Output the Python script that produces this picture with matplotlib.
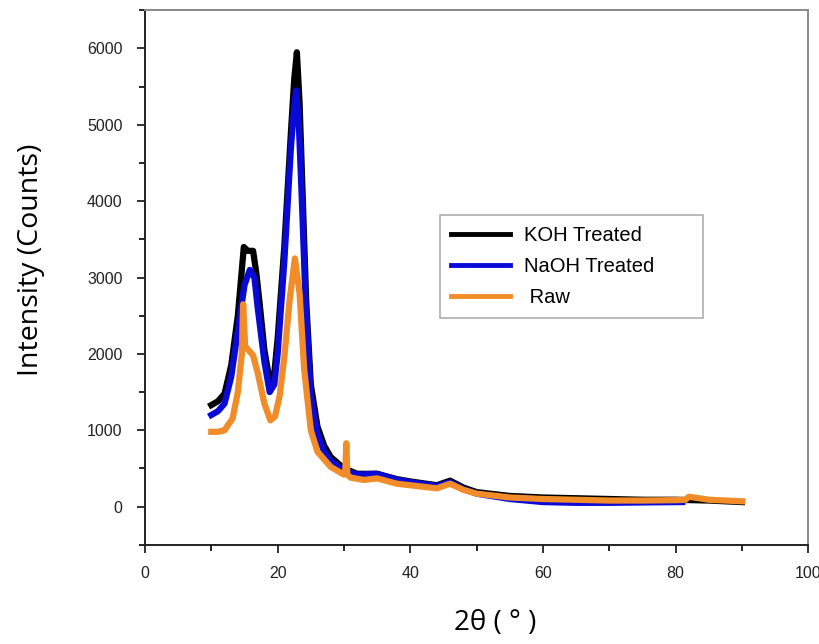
import matplotlib.pyplot as plt
from matplotlib.ticker import MultipleLocator

# values (2theta in degrees, intensity in counts)
koh_x = [10, 11, 12, 13, 14, 14.6, 14.9, 15.5, 16.3, 16.8, 17.3, 18, 18.8, 19.5,
         20, 21, 22, 22.5, 22.9, 23.3, 23.8, 24.3, 25, 26, 27, 28, 30, 32, 35,
         38, 40, 44, 46, 48, 50, 55, 60, 65, 70, 75, 80, 85, 90]
koh_y = [1330, 1380, 1480, 1850, 2500, 3100, 3400, 3350, 3350, 3050, 2650, 2050,
         1650, 1750, 2200, 3400, 4900, 5600, 5950, 5300, 4000, 2700, 1600, 1050,
         800, 650, 500, 430, 430, 360, 330, 280, 340, 250, 190, 140, 120, 110,
         100, 90, 90, 80, 60]

naoh_x = [10, 11, 12, 13, 14, 15, 15.8, 16.5, 17, 18, 18.8, 19.5, 20, 21, 22,
          22.5, 22.8, 23.2, 23.7, 24.2, 25, 26, 27, 28, 30, 32, 35, 38, 40, 44,
          46, 48, 50, 55, 60, 65, 70, 75, 81]
naoh_y = [1200, 1250, 1350, 1700, 2300, 2900, 3100, 3000, 2600, 1900, 1500, 1600,
          2000, 3200, 4700, 5250, 5450, 5000, 3900, 2700, 1450, 950, 720, 600,
          470, 420, 430, 350, 320, 270, 320, 230, 170, 100, 60, 50, 50, 55, 60]

raw_x = [10, 11, 12, 12.6, 13.2, 14, 14.6, 14.8, 15.1, 15.6, 16.3, 17, 18, 18.9,
         19.6, 20.3, 21, 21.8, 22.6, 23.3, 24, 25, 26, 28, 30, 30.2, 30.35, 30.5,
         31, 33, 35, 38, 40, 44, 46, 48, 50, 55, 60, 65, 70, 75, 80, 81.5, 82,
         85, 90]
raw_y = [980, 980, 1000, 1080, 1150, 1500, 2000, 2650, 2100, 2050, 1980, 1750,
         1350, 1130, 1180, 1450, 1950, 2700, 3250, 2800, 1800, 1000, 720, 520,
         420, 480, 830, 420, 380, 350, 370, 300, 280, 240, 300, 220, 170, 120,
         100, 90, 80, 80, 85, 90, 130, 90, 70]

fig = plt.figure(figsize=(8.19, 6.44), dpi=100)
ax = fig.add_axes([0.177, 0.154, 0.81, 0.83])

ax.plot(koh_x, koh_y, color='black', lw=4.5, solid_joinstyle='round',
        label='KOH Treated', zorder=2)
ax.plot(naoh_x, naoh_y, color='#0a0ad8', lw=4.5, solid_joinstyle='round',
        label='NaOH Treated', zorder=3)
ax.plot(raw_x, raw_y, color='#f28c28', lw=4.5, solid_joinstyle='round',
        label=' Raw', zorder=4)

ax.set_xlim(0, 100)
ax.set_ylim(-500, 6500)
ax.xaxis.set_major_locator(MultipleLocator(20))
ax.xaxis.set_minor_locator(MultipleLocator(10))
ax.yaxis.set_major_locator(MultipleLocator(1000))
ax.yaxis.set_minor_locator(MultipleLocator(500))
ax.tick_params(which='major', direction='out', length=6, width=1.3,
               labelsize=11.5, colors='#222222')
ax.tick_params(which='minor', direction='out', length=4, width=1.2)
ax.tick_params(axis='y', pad=10)
ax.tick_params(axis='x', pad=9)
for lab in ax.get_xticklabels() + ax.get_yticklabels():
    lab.set_fontfamily('Liberation Sans')

for side in ['left', 'bottom']:
    ax.spines[side].set_color('#222222')
    ax.spines[side].set_linewidth(1.4)
for side in ['top', 'right']:
    ax.spines[side].set_color('#888888')
    ax.spines[side].set_linewidth(1.4)

ax.set_xlabel('2θ ( ° )', fontsize=20, family='Open Sans')
ax.set_ylabel('Intensity (Counts)', fontsize=20.5, family='Open Sans')
ax.xaxis.set_label_coords(0.528, -0.12)
ax.yaxis.set_label_coords(-0.151, 0.533)

leg = ax.legend(loc='lower left', bbox_to_anchor=(0.43, 0.405, 0.427, 0.2),
                mode='expand', frameon=True, fancybox=False, handlelength=2.9,
                prop={'family': 'Liberation Sans', 'size': 14.5},
                labelspacing=0.6, borderpad=0.55, handletextpad=0.7)
leg.get_frame().set_edgecolor('#999999')
leg.get_frame().set_linewidth(1.2)
for line in leg.get_lines():
    line.set_linewidth(3.5)

fig.savefig('out.png', dpi=100)
plt.close(fig)
